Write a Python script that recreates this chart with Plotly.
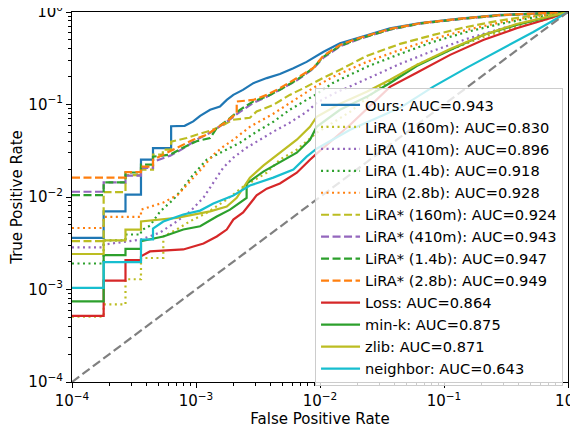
import plotly.graph_objects as go

# ROC curves (fpr, tpr)
ours_fpr = [1e-4, 1.8e-4, 1.8e-4, 2.7e-4, 2.7e-4, 3.6e-4, 3.6e-4, 4.5e-4, 4.5e-4, 6.3e-4, 6.3e-4, 8.1e-4,
            9.5e-4, 1.08e-3, 1.3e-3, 1.56e-3, 1.77e-3, 2.0e-3, 2.39e-3, 2.9e-3, 3.72e-3, 4.75e-3, 6.1e-3,
            7.8e-3, 0.0106, 0.0145, 0.0198, 0.0269, 0.0367, 0.064, 0.135, 0.283, 0.594, 1.0]
ours_tpr = [3.62e-3, 3.62e-3, 7.0e-3, 7.0e-3, 0.0106, 0.0106, 0.0253, 0.0253, 0.0337, 0.0337, 0.0582, 0.0588,
            0.0656, 0.0755, 0.0877, 0.095, 0.112, 0.127, 0.144, 0.170, 0.193, 0.214, 0.247,
            0.289, 0.370, 0.459, 0.520, 0.589, 0.667, 0.761, 0.851, 0.929, 0.975, 1.0]

lira_160m_fpr = [1e-4, 1.8e-4, 1.8e-4, 2.7e-4, 2.7e-4, 3.6e-4, 3.6e-4, 5.45e-4, 5.45e-4, 6.98e-4, 8.95e-4,
                 1.22e-3, 1.77e-3, 2.4e-3, 3.72e-3, 4.75e-3, 6.5e-3, 9.4e-3, 0.0175, 0.0322, 0.0602, 0.112,
                 0.207, 0.385, 0.716, 1.0]
lira_160m_tpr = [5.1e-4, 5.1e-4, 6.9e-4, 6.9e-4, 1.29e-3, 1.29e-3, 2.19e-3, 2.19e-3, 3.74e-3, 4.45e-3, 5.47e-3,
                 6.73e-3, 9.4e-3, 0.0129, 0.0183, 0.0253, 0.0325, 0.0495, 0.0834, 0.163, 0.268, 0.389,
                 0.537, 0.689, 0.851, 1.0]

lira_410m_fpr = [1e-4, 1.8e-4, 1.8e-4, 3.6e-4, 5.13e-4, 6.98e-4, 8.95e-4, 1.15e-3, 1.38e-3, 1.66e-3, 2.0e-3,
                 2.56e-3, 3.28e-3, 4.2e-3, 5.7e-3, 7.8e-3, 9.4e-3, 0.0127, 0.0238, 0.0442, 0.0815, 0.152,
                 0.283, 0.525, 1.0]
lira_410m_tpr = [2.85e-3, 2.85e-3, 3.06e-3, 3.47e-3, 4.13e-3, 5.43e-3, 6.96e-3, 9.85e-3, 0.0143, 0.0208, 0.0266,
                 0.0341, 0.0416, 0.0508, 0.0635, 0.0834, 0.104, 0.130, 0.189, 0.275, 0.38, 0.511,
                 0.656, 0.82, 1.0]

lira_14b_fpr = [1e-4, 1.8e-4, 1.8e-4, 2.7e-4, 2.7e-4, 3.6e-4, 3.6e-4, 4.25e-4, 5.13e-4, 6.56e-4, 7.9e-4,
                9.5e-4, 1.22e-3, 1.56e-3, 2.26e-3, 3.08e-3, 4.2e-3, 5.7e-3, 7.8e-3, 9.4e-3, 0.0127, 0.0238,
                0.0442, 0.0815, 0.152, 0.283, 0.525, 1.0]
lira_14b_tpr = [1.91e-3, 1.91e-3, 3.39e-3, 3.39e-3, 3.93e-3, 3.93e-3, 4.34e-3, 4.9e-3, 6.96e-3, 9.4e-3, 0.0126,
                0.0175, 0.0253, 0.0301, 0.0386, 0.0508, 0.065, 0.0877, 0.112, 0.130, 0.171, 0.255,
                0.352, 0.475, 0.608, 0.742, 0.872, 1.0]

lira_28b_fpr = [1e-4, 1.8e-4, 1.8e-4, 3.6e-4, 3.6e-4, 5.45e-4, 7.16e-4, 8.95e-4, 1.15e-3, 1.38e-3, 1.66e-3,
                2.0e-3, 2.72e-3, 4.2e-3, 6.5e-3, 8.8e-3, 0.0127, 0.0238, 0.0442, 0.0815, 0.152, 0.283,
                0.525, 1.0]
lira_28b_tpr = [4.62e-3, 4.62e-3, 6.1e-3, 6.1e-3, 7.3e-3, 8.7e-3, 0.0106, 0.0147, 0.0213, 0.0287, 0.035,
                0.0416, 0.0574, 0.0794, 0.117, 0.151, 0.199, 0.289, 0.389, 0.511, 0.64, 0.77,
                0.894, 1.0]

liras_160m_fpr = [1e-4, 1.8e-4, 1.8e-4, 2.7e-4, 2.7e-4, 3.6e-4, 3.6e-4, 4.5e-4, 4.5e-4, 5.4e-4, 5.4e-4, 6.3e-4,
                  6.3e-4, 8.4e-4, 1.01e-3, 1.3e-3, 1.62e-3, 1.99e-3, 2.72e-3, 3.08e-3, 4.2e-3, 5.7e-3, 7.8e-3,
                  0.0106, 0.0145, 0.0238, 0.0442, 0.082, 0.152, 0.283, 0.525, 1.0]
liras_160m_tpr = [3.34e-3, 3.34e-3, 0.0113, 0.0113, 0.0172, 0.0172, 0.0198, 0.0198, 0.0287, 0.0287, 0.0325, 0.0325,
                  0.0396, 0.0434, 0.0471, 0.052, 0.059, 0.0684, 0.0719, 0.084, 0.099, 0.127, 0.156,
                  0.194, 0.237, 0.335, 0.452, 0.565, 0.689, 0.81, 0.917, 1.0]

liras_410m_fpr = [1e-4, 1.8e-4, 1.8e-4, 2.7e-4, 2.7e-4, 3.6e-4, 3.6e-4, 4.5e-4, 4.5e-4, 6.2e-4, 7.85e-4, 1.01e-3,
                  1.3e-3, 1.77e-3, 2.26e-3, 2.9e-3, 3.72e-3, 4.75e-3, 6.5e-3, 8.8e-3, 0.0106, 0.0145, 0.0198,
                  0.0269, 0.0367, 0.064, 0.135, 0.283, 0.594, 1.0]
liras_410m_tpr = [0.0114, 0.0114, 0.0144, 0.0144, 0.017, 0.017, 0.0206, 0.0206, 0.024, 0.028, 0.0333, 0.0416,
                  0.0495, 0.065, 0.0834, 0.104, 0.121, 0.144, 0.182, 0.243, 0.319, 0.425, 0.50,
                  0.568, 0.645, 0.748, 0.838, 0.92, 0.974, 1.0]

liras_14b_fpr = [1e-4, 1.8e-4, 1.8e-4, 2.7e-4, 2.7e-4, 3.6e-4, 3.6e-4, 4.5e-4, 4.5e-4, 6.2e-4, 7.85e-4, 1.01e-3,
                 1.3e-3, 1.47e-3, 1.88e-3, 2.26e-3, 2.9e-3, 3.72e-3, 4.75e-3, 6.5e-3, 8.8e-3, 0.0106, 0.0145,
                 0.0198, 0.0269, 0.0367, 0.064, 0.135, 0.283, 0.594, 1.0]
liras_14b_tpr = [0.0105, 0.0105, 0.0144, 0.0144, 0.0184, 0.0184, 0.0224, 0.0224, 0.0273, 0.0287, 0.0341, 0.0401,
                 0.0434, 0.0556, 0.0713, 0.0877, 0.108, 0.122, 0.144, 0.185, 0.247, 0.327, 0.43,
                 0.505, 0.572, 0.648, 0.751, 0.84, 0.921, 0.975, 1.0]

liras_28b_fpr = [1e-4, 2.7e-4, 2.7e-4, 3.6e-4, 3.6e-4, 4.5e-4, 4.5e-4, 6.56e-4, 7.9e-4, 9.5e-4, 1.22e-3, 1.47e-3,
                 1.77e-3, 2.13e-3, 2.13e-3, 2.9e-3, 3.72e-3, 4.75e-3, 6.5e-3, 8.8e-3, 0.0106, 0.0145, 0.0198,
                 0.0269, 0.0367, 0.064, 0.135, 0.283, 0.594, 1.0]
liras_28b_tpr = [0.0162, 0.0162, 0.0186, 0.0186, 0.0213, 0.0213, 0.0253, 0.0325, 0.0367, 0.0416, 0.0471, 0.0556,
                 0.0656, 0.0807, 0.1077, 0.112, 0.127, 0.150, 0.193, 0.247, 0.335, 0.44, 0.514,
                 0.579, 0.656, 0.755, 0.848, 0.927, 0.975, 1.0]

loss_fpr = [1e-4, 1.8e-4, 1.8e-4, 2.7e-4, 2.7e-4, 3.6e-4, 3.6e-4, 4.25e-4, 7.9e-4, 1.15e-3, 1.47e-3, 1.77e-3,
            2.0e-3, 2.4e-3, 3.08e-3, 3.72e-3, 4.75e-3, 6.5e-3, 8.3e-3, 9.4e-3, 0.0175, 0.0367, 0.0602, 0.112,
            0.207, 0.385, 0.716, 1.0]
loss_tpr = [5.19e-4, 5.19e-4, 1.25e-3, 1.25e-3, 2.08e-3, 2.08e-3, 2.28e-3, 2.58e-3, 2.71e-3, 3.14e-3, 3.74e-3, 4.45e-3,
            5.7e-3, 6.8e-3, 0.0104, 0.0123, 0.014, 0.0183, 0.0253, 0.0294, 0.0604, 0.155, 0.22, 0.344,
            0.499, 0.667, 0.855, 1.0]

mink_fpr = [1e-4, 1.8e-4, 1.8e-4, 2.7e-4, 2.7e-4, 3.6e-4, 3.6e-4, 5.45e-4, 7.9e-4, 1.08e-3, 1.47e-3, 1.88e-3,
            2.56e-3, 2.56e-3, 3.49e-3, 4.75e-3, 6.5e-3, 8.3e-3, 9.4e-3, 0.0145, 0.0238, 0.0367, 0.0602, 0.112,
            0.207, 0.385, 0.716, 1.0]
mink_tpr = [7.44e-4, 7.44e-4, 2.35e-3, 2.35e-3, 2.75e-3, 2.75e-3, 3.33e-3, 3.74e-3, 4.45e-3, 4.83e-3, 6.15e-3, 7.3e-3,
            9.8e-3, 0.014, 0.0188, 0.0235, 0.0301, 0.0416, 0.0574, 0.0877, 0.121, 0.171, 0.261, 0.389,
            0.565, 0.724, 0.894, 1.0]

zlib_fpr = [1e-4, 1.8e-4, 1.8e-4, 2.7e-4, 2.7e-4, 3.6e-4, 3.6e-4, 6.98e-4, 1.3e-3, 1.77e-3, 2.13e-3, 2.72e-3,
            3.49e-3, 4.75e-3, 6.5e-3, 8.3e-3, 9.4e-3, 0.0145, 0.0238, 0.0367, 0.0602, 0.112, 0.207, 0.385,
            0.716, 1.0]
zlib_tpr = [2.42e-3, 2.42e-3, 3.39e-3, 3.39e-3, 4.45e-3, 4.45e-3, 5.43e-3, 5.95e-3, 7.0e-3, 7.9e-3, 9.8e-3, 0.0162,
            0.0218, 0.0299, 0.0416, 0.0574, 0.0737, 0.102, 0.137, 0.185, 0.268, 0.399, 0.565, 0.742,
            0.905, 1.0]

neighbor_fpr = [1e-4, 1.8e-4, 1.8e-4, 3.6e-4, 3.6e-4, 4.5e-4, 4.5e-4, 5.45e-4, 7.9e-4, 1.08e-3, 1.38e-3, 2.0e-3,
                2.72e-3, 4.2e-3, 6.1e-3, 7.8e-3, 9.4e-3, 0.0175, 0.0442, 0.0815, 0.152, 0.283, 0.525, 1.0]
neighbor_tpr = [1.04e-3, 1.04e-3, 1.98e-3, 1.98e-3, 3.47e-3, 3.47e-3, 4.56e-3, 5.43e-3, 6.46e-3, 7.13e-3, 8.5e-3, 0.0104,
                0.0133, 0.0162, 0.0198, 0.0273, 0.0333, 0.0533, 0.092, 0.155, 0.249, 0.389, 0.608, 1.0]

chance = [1e-4, 1.0]

labels = ["Ours: AUC=0.943", "LiRA (160m): AUC=0.830", "LiRA (410m): AUC=0.896", "LiRA (1.4b): AUC=0.918",
          "LiRA (2.8b): AUC=0.928", "LiRA* (160m): AUC=0.924", "LiRA* (410m): AUC=0.943",
          "LiRA* (1.4b): AUC=0.947", "LiRA* (2.8b): AUC=0.949", "Loss: AUC=0.864", "min-k: AUC=0.875",
          "zlib: AUC=0.871", "neighbor: AUC=0.643"]

BLUE, ORANGE, GREEN, RED, PURPLE, OLIVE, CYAN = ("#1f77b4", "#ff7f0e", "#2ca02c", "#d62728",
                                                 "#9467bd", "#bcbd22", "#17becf")
SOLID, DOT, DASH = "solid", "2px,3.5px", "8px,3.5px"

series = [
    (ours_fpr, ours_tpr, BLUE, SOLID),
    (lira_160m_fpr, lira_160m_tpr, OLIVE, DOT),
    (lira_410m_fpr, lira_410m_tpr, PURPLE, DOT),
    (lira_14b_fpr, lira_14b_tpr, GREEN, DOT),
    (lira_28b_fpr, lira_28b_tpr, ORANGE, DOT),
    (liras_160m_fpr, liras_160m_tpr, OLIVE, DASH),
    (liras_410m_fpr, liras_410m_tpr, PURPLE, DASH),
    (liras_14b_fpr, liras_14b_tpr, GREEN, DASH),
    (liras_28b_fpr, liras_28b_tpr, ORANGE, DASH),
    (loss_fpr, loss_tpr, RED, SOLID),
    (mink_fpr, mink_tpr, GREEN, SOLID),
    (zlib_fpr, zlib_tpr, OLIVE, SOLID),
    (neighbor_fpr, neighbor_tpr, CYAN, SOLID),
]

fig = go.Figure()
for i, (label, (fpr, tpr, color, dash)) in enumerate(zip(labels, series)):
    assert len(fpr) == len(tpr), label
    fig.add_trace(go.Scatter(
        x=fpr, y=tpr, mode="lines", name=label,
        line=dict(color=color, width=2.2, dash=dash),
    ))

fig.add_trace(go.Scatter(
    x=chance, y=chance, mode="lines", showlegend=False,
    line=dict(color="gray", width=2.2, dash="9px,4px"),
))

font = dict(family="DejaVu Sans, sans-serif", size=15, color="black")
major = [10.0 ** e for e in range(-4, 1)]
major_text = ["10<sup>−4</sup>", "10<sup>−3</sup>", "10<sup>−2</sup>", "10<sup>−1</sup>", "10<sup>0</sup>"]
minor = [m * 10.0 ** e for e in range(-4, 0) for m in range(2, 10)]

axis = dict(
    type="log", range=[-4, 0], showgrid=False, zeroline=False, automargin=False,
    showline=True, linecolor="black", linewidth=1.1, mirror=True,
    ticks="outside", ticklen=5, tickwidth=1.1, tickcolor="black",
    tickmode="array", tickvals=major, ticktext=major_text, tickfont=font,
    ticklabeloverflow="allow",
    minor=dict(tickmode="array", tickvals=minor, ticks="outside", ticklen=3,
               tickwidth=0.9, tickcolor="black", showgrid=False),
)

# the page body adds an 8px offset, so the figure is a little smaller than the window
fig.update_layout(
    width=570, height=420,
    margin=dict(l=64, r=10, t=4, b=46),
    paper_bgcolor="white", plot_bgcolor="white",
    font=font,
    xaxis=dict(axis, title=dict(text="False Positive Rate", font=font, standoff=8)),
    yaxis=dict(axis, title=dict(text="True Positive Rate", font=font, standoff=4)),
    legend=dict(
        x=0.99, y=0.795, xanchor="right", yanchor="top",
        bgcolor="rgba(255,255,255,0.8)", bordercolor="#cccccc", borderwidth=1,
        font=dict(font, size=14.6), traceorder="normal", itemwidth=39,
    ),
)

fig.write_html("out.html")
